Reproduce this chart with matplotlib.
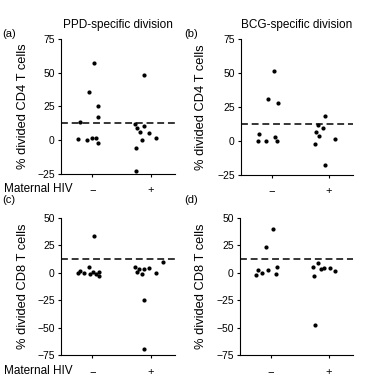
import matplotlib
matplotlib.use("Agg")
import matplotlib.pyplot as plt

plt.rcParams['font.family'] = ['Liberation Sans', 'DejaVu Sans']
plt.rcParams['font.size'] = 7.5

# group position on x: 1 = HIV-, 2 = HIV+ (jittered positions)
a_neg_x = [0.76, 0.79, 0.91, 0.94, 1.00, 1.03, 1.07, 1.10, 1.10, 1.10]
a_neg_y = [0.7, 13.3, 0.2, 35.8, 1.5, 57, 2, 25.4, 17.5, -1.7]
a_pos_x = [1.74, 1.77, 1.81, 1.75, 1.75, 1.85, 1.88, 1.89, 1.98, 2.10]
a_pos_y = [12, 9.4, 5.9, -5.4, -23, 0, 10.6, 48, 5, 2]

b_neg_x = [0.75, 0.78, 0.90, 0.93, 1.03, 1.06, 1.09, 1.11]
b_neg_y = [0.2, 5.2, 0.2, 31, 51.5, 3.2, 0, 27.8]
b_pos_x = [1.75, 1.77, 1.80, 1.82, 1.89, 1.93, 1.93, 2.10]
b_pos_y = [-2, 6.9, 12, 3.7, 9.6, 18.7, -17.7, 1.5]

c_neg_x = [0.76, 0.79, 0.85, 0.94, 0.95, 1.01, 1.03, 1.06, 1.11, 1.11]
c_neg_y = [0, 2, -0.4, 5, -1, 0.8, 33.6, -0.7, 0.8, -2.5]
c_pos_x = [1.73, 1.77, 1.80, 1.85, 1.88, 1.88, 1.89, 1.97, 2.10, 2.22]
c_pos_y = [5.4, 0.8, 3.9, -0.7, 3.9, -24.9, -69.5, 4.8, 0, 10.3]

d_neg_x = [0.74, 0.78, 0.85, 0.91, 0.94, 1.03, 1.10, 1.09]
d_neg_y = [-2.4, 2.4, -0.3, 23.2, 2.4, 40, 4.9, -1.2]
d_pos_x = [1.73, 1.75, 1.82, 1.86, 1.92, 1.76, 2.02, 2.10]
d_pos_y = [4.9, -2.7, 8.8, 3.4, 4.3, -47.9, 4.0, 1.8]

cutoff = 12.5
group_labels = ['\u2212', '+']

W, H = 370, 378
fig = plt.figure(figsize=(W / 100, H / 100), dpi=100)


def panel(rect, xs, ys, ylim, yticks, ylabel, letter, letter_xy, label_x, xpad, title=None):
    l, t, r, b = rect
    ax = fig.add_axes([l / W, 1 - b / H, (r - l) / W, (b - t) / H])
    for x, y in zip(xs, ys):
        ax.plot(x, y, 'o', color='black', markersize=2.0, linestyle='none', clip_on=False)
    ax.axhline(cutoff, color='black', linestyle=(0, (4.5, 2.5)), linewidth=1.1)
    ax.set_xlim(0.46, 2.42)
    ax.set_ylim(*ylim)
    ax.set_yticks(yticks)
    ax.set_yticklabels([str(v).replace('-', '\u2212') for v in yticks])
    ax.set_xticks([1, 2])
    ax.set_xticklabels(group_labels, fontsize=8)
    ax.tick_params(axis='x', length=2, pad=xpad, width=0.8)
    ax.tick_params(axis='y', length=2.5, pad=2, width=0.8)
    for s in ['top', 'right']:
        ax.spines[s].set_visible(False)
    for s in ['left', 'bottom']:
        ax.spines[s].set_linewidth(0.8)
    ax.set_ylabel(ylabel, fontsize=9.3)
    ax.yaxis.set_label_coords((label_x - l) / (r - l), 0.5)
    if title:
        ax.set_title(title, fontsize=8.5, pad=8)
    fig.text(letter_xy[0] / W, 1 - letter_xy[1] / H, letter, fontsize=8, va='center', ha='left')
    return ax


panel((61, 39, 175, 174), [a_neg_x, a_pos_x], [a_neg_y, a_pos_y], (-25, 75), [-25, 0, 25, 50, 75],
      '% divided CD4 T cells', '(a)', (2, 34), 29, 6, 'PPD-specific division')
panel((241, 39, 353, 175), [b_neg_x, b_pos_x], [b_neg_y, b_pos_y], (-25, 75), [-25, 0, 25, 50, 75],
      '% divided CD4 T cells', '(b)', (184, 34), 207, 6, 'BCG-specific division')
panel((61, 218, 175, 355), [c_neg_x, c_pos_x], [c_neg_y, c_pos_y], (-75, 50), [-75, -50, -25, 0, 25, 50],
      '% divided CD8 T cells', '(c)', (2, 200), 29, 6.5)
panel((240, 218, 353, 355), [d_neg_x, d_pos_x], [d_neg_y, d_pos_y], (-75, 50), [-75, -50, -25, 0, 25, 50],
      '% divided CD8 T cells', '(d)', (184, 200), 207, 6.5)

fig.text(4 / W, 1 - 189 / H, 'Maternal HIV', fontsize=8.5, va='center', ha='left')
fig.text(4 / W, 1 - 371 / H, 'Maternal HIV', fontsize=8.5, va='center', ha='left')

fig.savefig('out.png', dpi=100)
